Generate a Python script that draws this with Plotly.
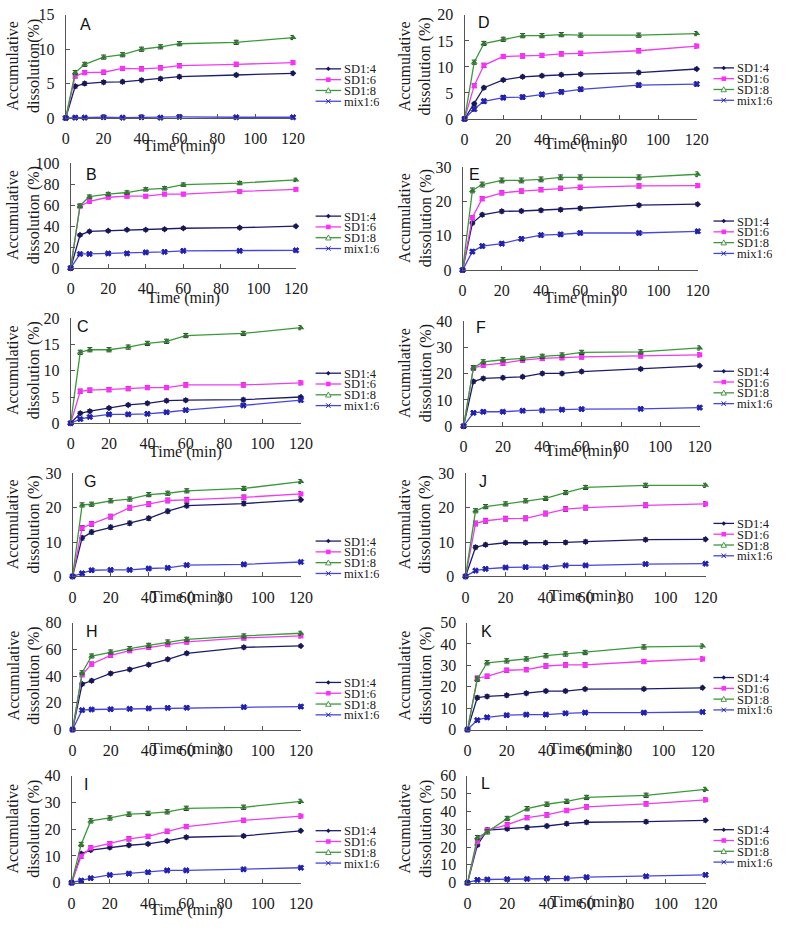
import plotly.graph_objects as go

TIME = [0, 5, 10, 20, 30, 40, 50, 60, 90, 120]
SERIES = ["SD1:4", "SD1:6", "SD1:8", "mix1:6"]

# ---- data (accumulative dissolution %) ----
A_SD14 = [0, 4.6, 5.0, 5.2, 5.25, 5.5, 5.7, 6.0, 6.25, 6.5]
A_SD16 = [0, 6.1, 6.6, 6.65, 7.2, 7.15, 7.3, 7.6, 7.8, 8.05]
A_SD18 = [0, 6.6, 7.8, 8.85, 9.2, 10.0, 10.35, 10.8, 11.0, 11.7]
A_MIX = [0, 0.05, 0.05, 0.1, 0.05, 0.1, 0.05, 0.15, 0.1, 0.1]
A_ERR = [0.25, 0.3, 0.3, 0.1]

B_SD14 = [0, 31.5, 35, 35.5, 36.5, 36.5, 37, 38, 38.5, 40]
B_SD16 = [0, 59, 63.5, 67.5, 68.5, 68.5, 70.5, 70.5, 73, 75]
B_SD18 = [0, 59.5, 68, 70.5, 72, 75, 76, 79.5, 81, 84]
B_MIX = [0, 13.5, 13.5, 14, 14, 15, 15.5, 16.5, 16.5, 17]
B_ERR = [1.2, 1.6, 1.6, 0.8]

C_SD14 = [0, 1.9, 2.3, 2.9, 3.5, 3.8, 4.3, 4.4, 4.5, 5.0]
C_SD16 = [0, 6.1, 6.3, 6.4, 6.6, 6.8, 6.8, 7.3, 7.3, 7.7]
C_SD18 = [0, 13.5, 14.0, 14.0, 14.5, 15.2, 15.6, 16.7, 17.1, 18.2]
C_MIX = [0, 0.8, 1.2, 1.7, 1.7, 1.8, 2.1, 2.5, 3.4, 4.4]
C_ERR = [0.3, 0.4, 0.4, 0.2]

D_SD14 = [0, 2.9, 6.0, 7.5, 8.1, 8.3, 8.5, 8.6, 8.9, 9.6]
D_SD16 = [0, 6.4, 10.3, 12.0, 12.1, 12.2, 12.5, 12.6, 13.1, 14.0]
D_SD18 = [0, 10.9, 14.5, 15.3, 16.0, 16.0, 16.2, 16.1, 16.1, 16.4]
D_MIX = [0, 1.9, 3.4, 4.1, 4.2, 4.7, 5.2, 5.7, 6.5, 6.7]
D_ERR = [0.3, 0.4, 0.4, 0.4]

E_SD14 = [0, 13.7, 16.1, 17.1, 17.2, 17.4, 17.6, 18.0, 18.9, 19.2]
E_SD16 = [0, 15.3, 20.8, 22.5, 23.0, 23.4, 23.8, 24.1, 24.5, 24.6]
E_SD18 = [0, 23.2, 24.9, 26.1, 26.1, 26.4, 27.0, 27.0, 27.0, 27.9]
E_MIX = [0, 5.4, 7.0, 7.7, 9.1, 10.2, 10.4, 10.8, 10.8, 11.3]
E_ERR = [0.5, 0.6, 0.7, 0.5]

F_SD14 = [0, 17.0, 18.2, 18.5, 18.8, 20.1, 20.1, 20.8, 21.8, 23.0]
F_SD16 = [0, 22.1, 23.3, 24.0, 25.2, 25.8, 26.1, 26.4, 26.8, 27.2]
F_SD18 = [0, 22.3, 24.5, 25.3, 25.8, 26.6, 27.1, 28.1, 28.3, 29.8]
F_MIX = [0, 5.1, 5.5, 5.5, 5.9, 6.0, 6.3, 6.5, 6.6, 7.1]
F_ERR = [0.6, 0.8, 0.8, 0.5]

G_SD14 = [0, 11.2, 12.9, 14.3, 15.5, 16.9, 19.0, 20.6, 21.2, 22.3]
G_SD16 = [0, 14.1, 15.3, 17.4, 20.0, 21.0, 22.1, 22.3, 23.0, 24.0]
G_SD18 = [0, 20.8, 21.0, 22.0, 22.5, 23.8, 24.2, 24.9, 25.6, 27.6]
G_MIX = [0, 0.9, 1.8, 1.9, 1.9, 2.3, 2.5, 3.3, 3.5, 4.2]
G_ERR = [0.6, 0.7, 0.6, 0.3]

H_SD14 = [0, 34, 36.5, 42, 45, 48.5, 52.5, 57, 61.5, 62.5]
H_SD16 = [0, 41, 49, 55.5, 59, 61.5, 63.5, 65.5, 68.5, 70]
H_SD18 = [0, 42.5, 55, 58, 60.5, 63, 65.5, 67.5, 70, 72]
H_MIX = [0, 14.5, 15, 15.2, 15.5, 15.8, 16.2, 16.3, 16.8, 17.2]
H_ERR = [1.2, 1.5, 1.5, 0.8]

I_SD14 = [0, 10.8, 12.2, 13.2, 14.0, 14.5, 15.6, 17.0, 17.5, 19.4]
I_SD16 = [0, 9.9, 13.0, 14.6, 16.4, 17.3, 19.2, 21.0, 23.3, 24.9]
I_SD18 = [0, 14.3, 23.1, 24.2, 25.6, 25.9, 26.5, 27.8, 28.2, 30.4]
I_MIX = [0, 0.8, 1.7, 2.9, 3.4, 3.9, 4.6, 4.6, 5.0, 5.6]
I_ERR = [0.6, 0.8, 0.8, 0.3]

J_SD14 = [0, 8.5, 9.2, 9.8, 9.8, 9.8, 9.9, 10.1, 10.7, 10.8]
J_SD16 = [0, 15.4, 16.2, 16.8, 16.9, 18.3, 19.6, 20.0, 20.7, 21.1]
J_SD18 = [0, 19.1, 20.3, 21.1, 22.0, 22.7, 24.4, 25.9, 26.5, 26.5]
J_MIX = [0, 1.7, 2.2, 2.6, 2.7, 2.7, 3.2, 3.2, 3.6, 3.7]
J_ERR = [0.5, 0.7, 0.6, 0.3]

K_SD14 = [0, 14.9, 15.5, 16.0, 17.0, 18.0, 18.0, 18.9, 19.0, 19.5]
K_SD16 = [0, 24.0, 24.9, 27.7, 28.0, 29.7, 30.2, 30.2, 31.8, 33.0]
K_SD18 = [0, 23.5, 31.2, 32.1, 33.0, 34.5, 35.3, 36.0, 38.6, 39.0]
K_MIX = [0, 4.4, 5.7, 6.7, 7.0, 7.0, 7.6, 7.9, 7.9, 8.2]
K_ERR = [0.8, 1.0, 1.0, 0.6]

L_SD14 = [0, 21.2, 29.5, 30.2, 30.9, 31.8, 33.1, 33.9, 34.2, 35.0]
L_SD16 = [0, 23.0, 29.5, 32.5, 36.5, 38.0, 40.5, 42.5, 44.2, 46.5]
L_SD18 = [0, 25.3, 28.5, 36.0, 41.5, 44.0, 45.6, 47.8, 49.0, 52.3]
L_MIX = [0, 1.6, 1.8, 2.0, 2.1, 2.4, 2.4, 3.1, 3.6, 4.4]
L_ERR = [1.0, 1.2, 1.2, 0.5]

Y_MAX = {"A": 15, "B": 100, "C": 20, "D": 20, "E": 30, "F": 40,
         "G": 30, "H": 80, "I": 40, "J": 30, "K": 50, "L": 60}
Y_DTICK = {"A": 5, "B": 20, "C": 5, "D": 5, "E": 10, "F": 10,
           "G": 10, "H": 20, "I": 10, "J": 10, "K": 10, "L": 10}

DATA = {
    "A": (A_SD14, A_SD16, A_SD18, A_MIX, A_ERR),
    "B": (B_SD14, B_SD16, B_SD18, B_MIX, B_ERR),
    "C": (C_SD14, C_SD16, C_SD18, C_MIX, C_ERR),
    "D": (D_SD14, D_SD16, D_SD18, D_MIX, D_ERR),
    "E": (E_SD14, E_SD16, E_SD18, E_MIX, E_ERR),
    "F": (F_SD14, F_SD16, F_SD18, F_MIX, F_ERR),
    "G": (G_SD14, G_SD16, G_SD18, G_MIX, G_ERR),
    "H": (H_SD14, H_SD16, H_SD18, H_MIX, H_ERR),
    "I": (I_SD14, I_SD16, I_SD18, I_MIX, I_ERR),
    "J": (J_SD14, J_SD16, J_SD18, J_MIX, J_ERR),
    "K": (K_SD14, K_SD16, K_SD18, K_MIX, K_ERR),
    "L": (L_SD14, L_SD16, L_SD18, L_MIX, L_ERR),
}

# ---- layout (pixel geometry) ----
W, H = 796, 930
# letter: (x0, x1, ytop, ybottom, legend first row y, xtitle y, letter x, letter y)
GEOM = {
    "A": (63, 295, 7, 112, 62, 141, 76, 6),
    "B": (68, 298, 158, 265, 212, 295, 82, 159),
    "C": (68, 303, 316, 423, 372, 452, 72, 314),
    "G": (70, 303, 474, 579, 543, 600, 80, 472),
    "H": (70, 303, 626, 735, 687, 755, 82, 624),
    "I": (69, 303, 782, 891, 838, 919, 80, 780),
    "D": (470, 707, 7, 113, 61, 139, 482, 4),
    "E": (468, 708, 162, 267, 217, 295, 472, 159),
    "F": (469, 710, 319, 426, 370, 451, 480, 315),
    "J": (471, 716, 474, 579, 525, 599, 483, 472),
    "K": (473, 713, 626, 735, 682, 755, 485, 624),
    "L": (473, 716, 782, 891, 837, 911, 485, 779),
}
ORDER = ["A", "B", "C", "G", "H", "I", "D", "E", "F", "J", "K", "L"]

LINE_COL = ["#1c1c6e", "#ee3cee", "#3a9a3a", "#4646dc"]
MARK_COL = ["#16165a", "#ff2bff", "#2a7f2a", "#2020b0"]
SYMBOLS = ["diamond", "square", "triangle-up", "x"]
MSIZE = [5, 5, 6, 5]
SERIF = "Times New Roman, Liberation Serif, Tinos, serif"
SANS = "Arial, Liberation Sans, sans-serif"


def pxx(x):
    return x / W


def pxy(y):
    return 1 - y / H


fig = go.Figure()
shapes = []
annotations = []

for i, key in enumerate(ORDER, start=1):
    x0, x1, yt, yb, leg_y, xt_y, lx, ly = GEOM[key]
    sd14, sd16, sd18, mix, err = DATA[key]
    xa = "x" if i == 1 else f"x{i}"
    ya = "y" if i == 1 else f"y{i}"
    for s, vals in enumerate([sd14, sd16, sd18, mix]):
        e = [0] + [err[s]] * (len(TIME) - 1)
        fig.add_trace(go.Scatter(
            x=TIME, y=vals, xaxis=xa, yaxis=ya, name=SERIES[s],
            mode="lines+markers", showlegend=False, cliponaxis=False,
            line=dict(color=LINE_COL[s], width=1.3),
            marker=dict(symbol=SYMBOLS[s], size=MSIZE[s], color=MARK_COL[s],
                        line=dict(width=1 if SYMBOLS[s] == "x" else 0, color=MARK_COL[s])),
            error_y=dict(type="data", array=e, visible=True, color="#333333",
                         thickness=1, width=2.5),
        ))
    axn = "" if i == 1 else str(i)
    common = dict(showgrid=False, zeroline=False, showline=True, linecolor="#555555",
                  linewidth=1, ticks="inside", ticklen=4, tickcolor="#555555",
                  tickfont=dict(family=SERIF, size=16, color="#1a1a1a"))
    fig.update_layout(**{
        f"xaxis{axn}": dict(domain=[pxx(x0), pxx(x1)], anchor=ya, range=[0, 120],
                             tick0=0, dtick=20, ticklabelstandoff=6, **common),
        f"yaxis{axn}": dict(domain=[pxy(yb), pxy(yt)], anchor=xa,
                             range=[0, Y_MAX[key]], tick0=0, dtick=Y_DTICK[key],
                             ticklabelstandoff=7, **common),
    })
    # panel letter
    annotations.append(dict(text=key, x=pxx(lx), y=pxy(ly), xref="paper", yref="paper",
                            xanchor="left", yanchor="top", showarrow=False,
                            font=dict(family=SANS, size=16, color="#111111")))
    # x title
    annotations.append(dict(text="Time (min)", x=pxx((x0 + x1) / 2), y=pxy(xt_y),
                            xref="paper", yref="paper", xanchor="center", yanchor="middle",
                            showarrow=False, font=dict(family=SERIF, size=16, color="#1a1a1a")))
    # y title
    ytxt = "Accumulative<br>dissolution(%)" if key == "A" else "Accumulative<br>dissolution (%)"
    ycx = 20 if x0 < 300 else 420
    annotations.append(dict(text=ytxt, x=pxx(ycx), y=pxy((yt + yb) / 2), xref="paper",
                            yref="paper", xanchor="center", yanchor="middle", textangle=-90,
                            showarrow=False, font=dict(family=SERIF, size=16, color="#1a1a1a")))
    # manual legend
    if x0 < 300:
        la, lb = 318, 344
    else:
        la, lb = 724, 745
    for s in range(4):
        ry = leg_y + s * 11
        shapes.append(dict(type="line", xref="paper", yref="paper",
                           x0=pxx(la), x1=pxx(lb), y0=pxy(ry), y1=pxy(ry),
                           line=dict(color=LINE_COL[s], width=1.3)))
        cx = (la + lb) / 2
        r = 2.3
        if s == 0:
            path = (f"M {pxx(cx)},{pxy(ry - r)} L {pxx(cx + r)},{pxy(ry)} "
                    f"L {pxx(cx)},{pxy(ry + r)} L {pxx(cx - r)},{pxy(ry)} Z")
            shapes.append(dict(type="path", xref="paper", yref="paper", path=path,
                               fillcolor=MARK_COL[s], line=dict(width=0)))
        elif s == 1:
            shapes.append(dict(type="rect", xref="paper", yref="paper",
                               x0=pxx(cx - r), x1=pxx(cx + r), y0=pxy(ry + r), y1=pxy(ry - r),
                               fillcolor=MARK_COL[s], line=dict(width=0)))
        elif s == 2:
            path = (f"M {pxx(cx)},{pxy(ry - r - 0.5)} L {pxx(cx + r + 0.5)},{pxy(ry + r)} "
                    f"L {pxx(cx - r - 0.5)},{pxy(ry + r)} Z")
            shapes.append(dict(type="path", xref="paper", yref="paper", path=path,
                               fillcolor="#ffffff", line=dict(width=0.8, color=MARK_COL[s])))
        else:
            path = (f"M {pxx(cx - r)},{pxy(ry - r)} L {pxx(cx + r)},{pxy(ry + r)} "
                    f"M {pxx(cx - r)},{pxy(ry + r)} L {pxx(cx + r)},{pxy(ry - r)}")
            shapes.append(dict(type="path", xref="paper", yref="paper", path=path,
                               line=dict(width=1, color=MARK_COL[s])))
        annotations.append(dict(text=SERIES[s], x=pxx(lb + 2), y=pxy(ry), xref="paper",
                                yref="paper", xanchor="left", yanchor="middle",
                                showarrow=False, height=11, borderpad=0,
                                font=dict(family=SERIF, size=12.5, color="#1a1a1a")))

fig.update_layout(width=W, height=H, margin=dict(l=0, r=0, t=0, b=0),
                  paper_bgcolor="white", plot_bgcolor="white",
                  showlegend=False, shapes=shapes, annotations=annotations)

fig.write_html("out.html", config={"displayModeBar": False},
               post_script="document.body.style.margin='0';")
